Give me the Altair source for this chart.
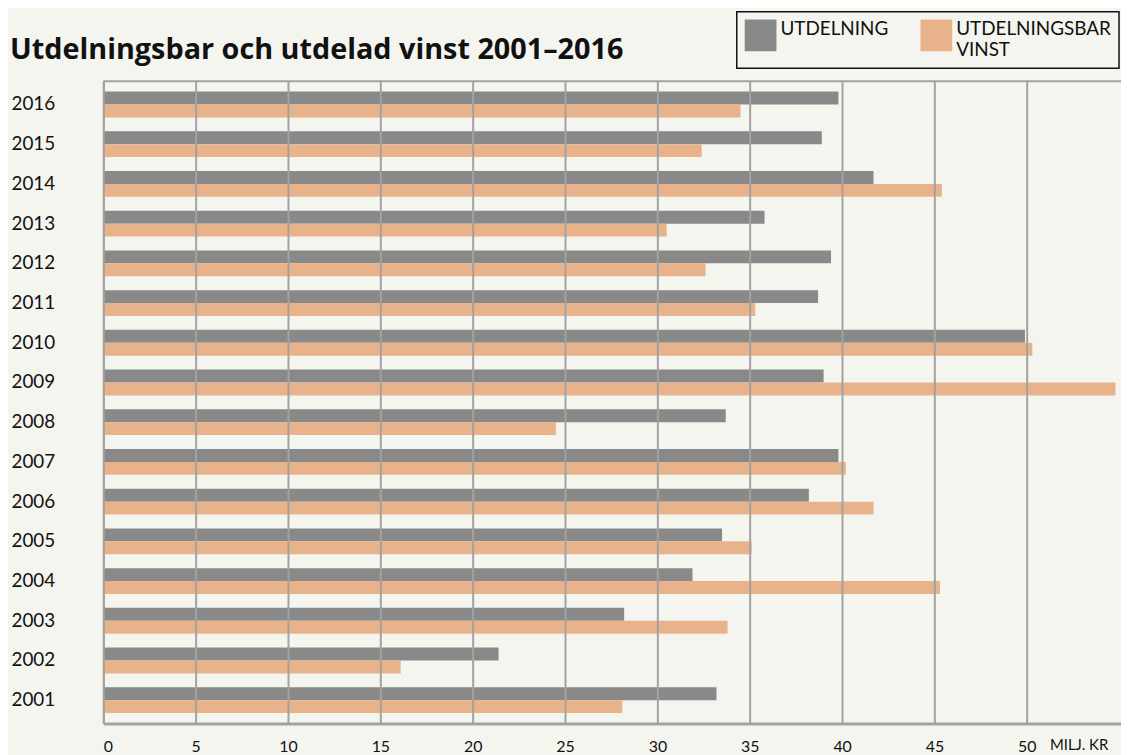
import altair as alt
import pandas as pd

years = [2001, 2002, 2003, 2004, 2005, 2006, 2007, 2008,
         2009, 2010, 2011, 2012, 2013, 2014, 2015, 2016]
utdelning = [33.2, 21.4, 28.2, 31.9, 33.5, 38.2, 39.8, 33.7,
             39.0, 49.9, 38.7, 39.4, 35.8, 41.7, 38.9, 39.8]
vinst = [28.1, 16.1, 33.8, 45.3, 35.1, 41.7, 40.2, 24.5,
         54.8, 50.3, 35.3, 32.6, 30.5, 45.4, 32.4, 34.5]
series = ["UTDELNING", "UTDELNINGSBAR VINST"]
colors = ["#898989", "#E8B38A"]
x_ticks = [0, 5, 10, 15, 20, 25, 30, 35, 40, 45, 50]
title_text = "Utdelningsbar och utdelad vinst 2001–2016"
unit_text = "MILJ. KR"

rows = []
for i, yr in enumerate(years):
    rows.append({"year": str(yr), "series": series[0], "value": utdelning[i]})
    rows.append({"year": str(yr), "series": series[1], "value": vinst[i]})
df = pd.DataFrame(rows)
year_order = [str(y) for y in reversed(years)]

W, H = 1025, 647
BG = "#f5f5f0"
GRID = "#a2a2a2"

bars = alt.Chart(df).mark_bar(clip=True).encode(
    x=alt.X(
        "value:Q",
        scale=alt.Scale(domain=[0, 55.1], nice=False, zero=True),
        axis=alt.Axis(
            values=x_ticks, title=unit_text, grid=True, gridColor=GRID, gridWidth=2,
            domainColor=GRID, domainWidth=3, ticks=False, labelFontSize=16,
            labelPadding=15, labelColor="#111", labelFont="Lato",
            titleX=953, titleY=26, titleAlign="left", titleBaseline="alphabetic",
            titleFontSize=15, titleFontWeight="normal", titleFont="Lato",
            titleColor="#111", zindex=1,
        ),
    ),
    y=alt.Y(
        "year:N", sort=year_order,
        scale=alt.Scale(paddingInner=0.35, paddingOuter=0.2625, align=0.5),
        axis=alt.Axis(
            title=None, ticks=False, labelAlign="left", labelPadding=93,
            labelFontSize=19, labelFont="Lato", labelColor="#111",
            domainColor=GRID, domainWidth=2,
        ),
    ),
    yOffset=alt.YOffset("series:N", sort=series,
                        scale=alt.Scale(paddingInner=0, paddingOuter=0)),
    color=alt.Color(
        "series:N", sort=series,
        scale=alt.Scale(domain=series, range=colors),
        legend=alt.Legend(
            title=None, orient="none", legendX=638, legendY=-70,
            direction="horizontal", symbolType="square", symbolSize=1024,
            symbolStrokeWidth=0, symbolOpacity=1, labelFontSize=19, labelFont="Lato",
            labelColor="#111", labelBaseline="alphabetic", labelOffset=4,
            columnPadding=32, padding=8, strokeColor="#111", fillColor=BG,
            labelLimit=600,
            labelExpr="datum.label == 'UTDELNINGSBAR VINST' ? ['UTDELNINGSBAR\u00a0\u00a0\u00a0\u00a0\u00a0\u00a0', 'VINST'] : [datum.label, '']",
        ),
    ),
)

top_line = alt.Chart(pd.DataFrame({"k": [0]})).mark_rule(
    color=GRID, strokeWidth=2
).encode(x=alt.value(0), x2=alt.value(W), y=alt.value(0))

chart = alt.layer(bars, top_line).properties(
    width=W, height=H,
    title=alt.TitleParams(
        title_text, anchor="start", frame="group", dx=-94, dy=77, fontSize=29,
        font="Open Sans", fontWeight="bold", baseline="alphabetic", offset=0,
        color="#111",
    ),
    autosize=alt.AutoSizeParams(type="none"),
    padding={"left": 96, "top": 71, "right": 0, "bottom": 29},
    background=BG,
).configure_view(stroke=None).configure_legend(strokeWidth=1.5)

chart.save("out.html", embed_options={"renderer": "svg", "actions": False})
